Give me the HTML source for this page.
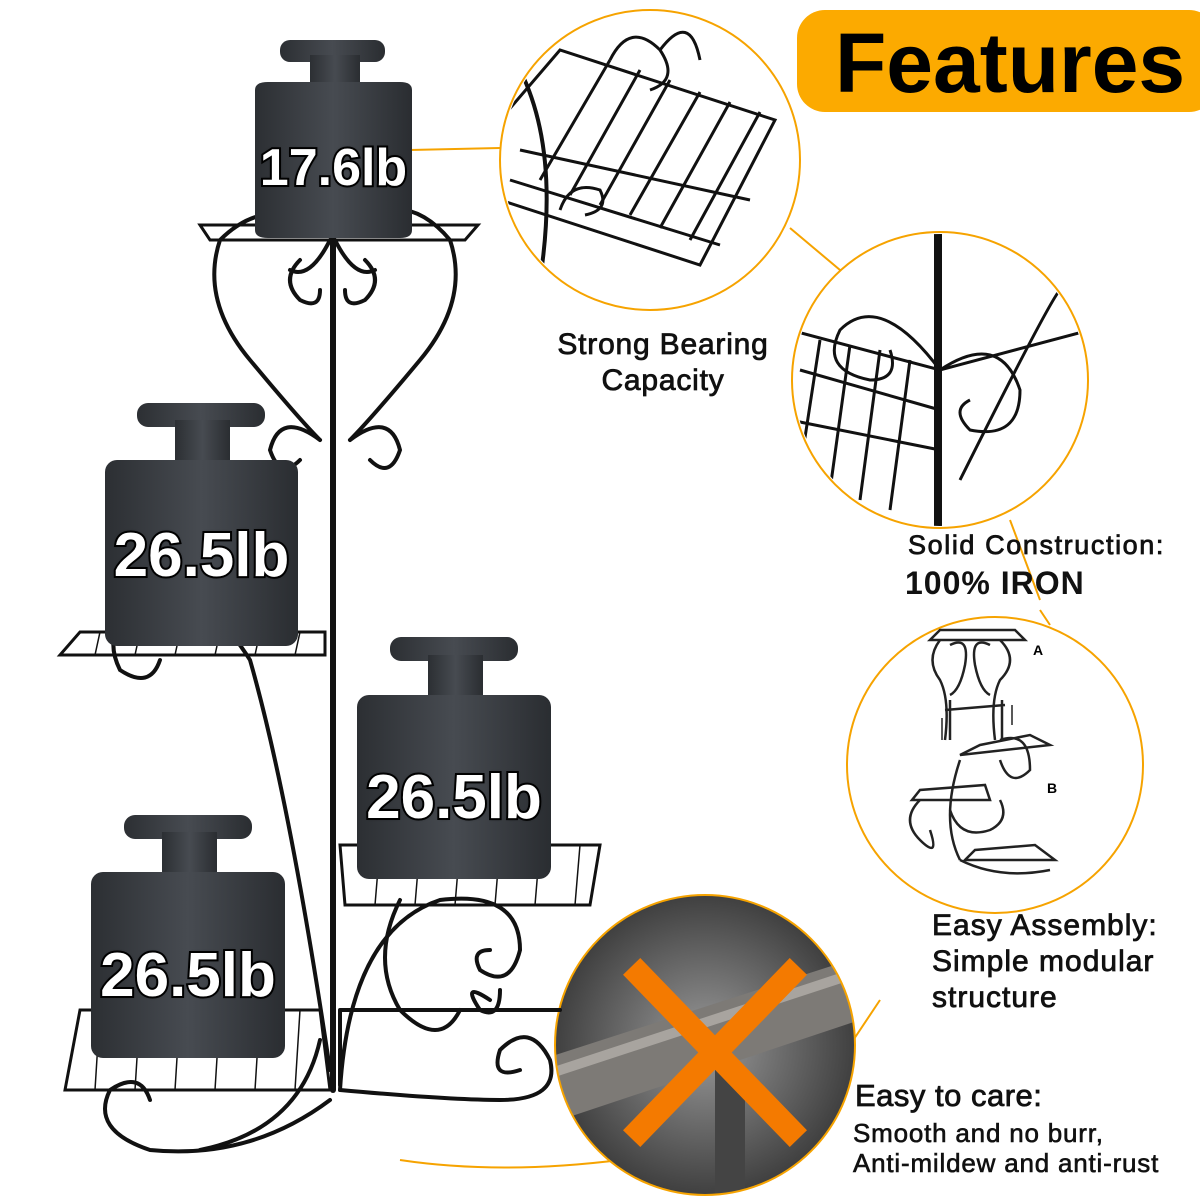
<!DOCTYPE html>
<html><head><meta charset="utf-8"><style>
html,body{margin:0;padding:0;background:#fff;}
#c{position:relative;width:1200px;height:1200px;overflow:hidden;background:#fff;font-family:"Liberation Sans",sans-serif;}
.t{position:absolute;color:#111;font-weight:bold;white-space:nowrap;}
.w{position:absolute;color:#fff;font-weight:bold;font-family:"Liberation Sans",sans-serif;-webkit-text-stroke:4px #000;paint-order:stroke fill;text-shadow:0 0 3px #000;white-space:nowrap;text-align:center;}
</style></head><body><div id="c">
<svg width="1200" height="1200" style="position:absolute;left:0;top:0">
<defs>
<linearGradient id="g" x1="0" x2="1"><stop offset="0" stop-color="#2c2f33"/><stop offset="0.5" stop-color="#474b51"/><stop offset="1" stop-color="#2a2d31"/></linearGradient>
<radialGradient id="ph" cx="0.5" cy="0.5" r="0.6"><stop offset="0" stop-color="#9a9a9a"/><stop offset="1" stop-color="#2a2a2a"/></radialGradient>
<clipPath id="c4"><circle cx="705" cy="1045" r="150"/></clipPath>
<clipPath id="c1"><circle cx="650" cy="160" r="148"/></clipPath>
<clipPath id="c2"><circle cx="940" cy="380" r="146"/></clipPath>
</defs>
<g stroke="#f6a300" stroke-width="2" fill="none">
<path d="M410 150 L500 148"/>
<path d="M790 228 L840 270"/>
<path d="M1010 520 L1040 600"/>
<path d="M1040 610 L1050 625"/>
<path d="M850 1045 L880 1000"/>
<path d="M400 1160 Q500 1175 620 1160"/>
</g>
<circle cx="650" cy="160" r="150" fill="#fff" stroke="#f6a300" stroke-width="2"/>
<circle cx="940" cy="380" r="148" fill="#fff" stroke="#f6a300" stroke-width="2"/>
<circle cx="995" cy="765" r="148" fill="#fff" stroke="#f6a300" stroke-width="2"/>
<g clip-path="url(#c1)" stroke="#111" stroke-width="3" fill="none">
<path d="M500 120 L560 50 L775 120 L700 265 L500 200 Z"/>
<path d="M540 180 L610 60 M570 195 L640 70 M600 205 L670 80 M630 215 L700 92 M660 228 L730 102 M690 240 L760 112"/>
<path d="M520 150 L750 200 M510 180 L720 245"/>
<path d="M610 60 q20 -40 50 -10 q20 30 -10 40 M660 50 q30 -40 40 10 M560 210 q10 -30 40 -20 q10 20 -15 25"/>
<path d="M520 70 Q560 150 540 280" stroke-width="4"/>
</g>
<g clip-path="url(#c2)" stroke="#111" stroke-width="3" fill="none">
<path d="M938 230 L938 530" stroke-width="8"/>
<path d="M790 330 L940 370 L1090 330 M790 420 L940 450 M800 370 L940 410"/>
<path d="M820 340 L800 470 M850 345 L830 490 M880 350 L860 500 M910 360 L890 510"/>
<path d="M940 370 q-60 -80 -100 -40 q-20 40 30 50 q30 0 20 -30"/>
<path d="M940 370 q60 -40 80 20 q0 50 -50 40 q-20 -20 0 -30"/>
<path d="M960 480 Q1050 300 1060 290"/>
</g>
<g stroke="#222" stroke-width="2.5" fill="none">
<path d="M930 640 L1025 640 L1015 630 L940 630 Z"/>
<path d="M940 640 q-15 20 0 40 q10 20 5 60 M1000 640 q20 20 0 40 q-10 20 -5 60"/>
<path d="M950 645 q20 -10 15 20 q-5 25 -15 30 M990 645 q-20 -10 -15 20 q5 25 15 30"/>
<path d="M945 710 L1005 705 M950 700 L950 740 M1002 700 L1002 740"/>
<path d="M960 755 L1050 745 L1030 735 L980 745 Z M912 800 L990 800 L985 785 L920 790 Z M965 860 L1055 860 L1035 845 L975 850 Z"/>
<path d="M960 760 Q940 820 960 860 M1000 740 q30 -10 30 30 q-20 20 -30 -10"/>
<path d="M920 800 q-20 20 0 40 q20 20 10 -10 M960 860 Q1000 880 1050 870 M1000 800 Q1010 820 990 830 q-30 10 -40 -20"/>
<path d="M942 718 L942 740 M1012 705 L1012 725" stroke-width="1.5"/>
</g>
<text x="1033" y="655" font-family="Liberation Sans" font-size="14" font-weight="bold">A</text>
<text x="1047" y="793" font-family="Liberation Sans" font-size="14" font-weight="bold">B</text>
<g clip-path="url(#c4)">
<rect x="550" y="890" width="310" height="310" fill="url(#ph)"/>
<path d="M540 1060 L850 960 L860 1020 L560 1120 Z" fill="#7d7a76"/>
<path d="M545 1075 L850 975" stroke="#a8a49f" stroke-width="10"/>
<rect x="715" y="1070" width="30" height="140" fill="#444"/>
<path d="M640 975 L790 1130 M790 975 L640 1130" stroke="#f47a00" stroke-width="24" stroke-linecap="square"/>
</g>
<circle cx="705" cy="1045" r="150" fill="none" stroke="#f6a300" stroke-width="2"/>
<g stroke="#111" stroke-width="4" fill="none" stroke-linecap="round">
<path d="M333 225 L333 1090" stroke-width="6"/>
<path d="M200 225 L478 225 L465 240 L210 240 Z" stroke-width="3"/>
<path d="M335 235 Q400 180 450 240 Q470 300 420 360 Q370 420 350 440 M333 235 Q270 190 220 240 Q200 300 250 360 Q300 420 320 440"/>
<path d="M300 260 q-20 20 0 40 q20 10 20 -10 M365 260 q20 20 0 40 q-20 10 -20 -10 M330 240 q-20 40 -40 30 M335 240 q20 40 40 30"/>
<path d="M320 440 q-40 -30 -50 10 q10 30 30 10 M350 440 q40 -30 50 10 q-10 30 -30 10"/>
<path d="M60 655 L325 655 L325 632 L80 632 Z" stroke-width="3"/>
<path d="M100 632 L95 655 M140 632 L135 655 M180 632 L175 655 M220 632 L215 655 M260 632 L255 655 M300 632 L295 655" stroke-width="1.5"/>
<path d="M330 1070 Q290 800 250 660 Q200 580 140 600 Q100 630 120 670 q30 20 40 -10"/>
<path d="M340 845 L600 845 L590 905 L345 905 Z" stroke-width="3"/>
<path d="M380 845 L375 905 M420 845 L415 905 M460 845 L455 905 M500 845 L495 905 M540 845 L535 905 M580 845 L575 905" stroke-width="1.5"/>
<path d="M340 1090 Q350 930 440 900 Q520 890 520 950 q-10 40 -40 20 q-10 -20 10 -20"/>
<path d="M400 900 Q370 960 400 1010 q40 40 60 0"/>
<path d="M490 1000 q-30 -20 -10 10 q20 10 20 -20"/>
<path d="M340 1090 Q450 1100 500 1100 Q560 1100 550 1060 q-20 -40 -50 -10 q-10 30 20 20"/>
<path d="M340 1010 L560 1010 M340 1010 L340 1085"/>
<path d="M65 1090 L330 1090 L320 1010 L80 1010 Z" stroke-width="3"/>
<path d="M100 1010 L95 1090 M140 1010 L135 1090 M180 1010 L175 1090 M220 1010 L215 1090 M260 1010 L255 1090 M300 1010 L295 1090" stroke-width="1.5"/>
<path d="M330 1100 Q250 1160 150 1150 Q90 1130 110 1090 q30 -20 40 10"/>
<path d="M320 1040 Q300 1130 200 1150"/>
</g>
<g fill="url(#g)">
<rect x="280" y="40" width="105" height="22" rx="10"/><rect x="310" y="55" width="50" height="35"/>
<path d="M255 90 Q255 82 268 82 L400 82 Q412 82 412 90 L412 230 Q412 238 400 238 L268 238 Q255 238 255 230Z"/>
<rect x="137" y="403" width="128" height="24" rx="11"/><rect x="175" y="420" width="55" height="45"/>
<rect x="105" y="460" width="193" height="186" rx="12"/>
<rect x="390" y="637" width="128" height="24" rx="11"/><rect x="428" y="655" width="55" height="45"/>
<rect x="357" y="695" width="194" height="184" rx="12"/>
<rect x="124" y="815" width="128" height="24" rx="11"/><rect x="162" y="832" width="55" height="45"/>
<rect x="91" y="872" width="194" height="186" rx="12"/>
</g>
</svg>
<div class="w" style="left:255px;top:138px;width:157px;font-size:52px">17.6lb</div>
<div class="w" style="left:105px;top:520px;width:193px;font-size:62px">26.5lb</div>
<div class="w" style="left:357px;top:762px;width:194px;font-size:62px">26.5lb</div>
<div class="w" style="left:91px;top:940px;width:194px;font-size:62px">26.5lb</div>
<div style="position:absolute;left:797px;top:10px;width:420px;height:102px;background:#fcaa00;border-radius:28px;"></div>
<div class="t" style="left:835px;top:15px;font-size:84px;color:#000">Features</div>
<div class="t" style="left:545px;top:327px;font-size:30px;letter-spacing:0.8px;font-weight:normal;-webkit-text-stroke:0.8px #111;text-align:center;width:236px;line-height:36px">Strong Bearing<br>Capacity</div>
<div class="t" style="left:908px;top:530px;font-size:27px;letter-spacing:1.6px;font-weight:normal;-webkit-text-stroke:0.8px #111">Solid Construction:</div>
<div class="t" style="left:905px;top:565px;font-size:32px;letter-spacing:1px">100% IRON</div>
<div class="t" style="left:932px;top:908px;font-size:30px;letter-spacing:1px;font-weight:normal;-webkit-text-stroke:0.8px #111;line-height:36px">Easy Assembly:<br>Simple modular<br>structure</div>
<div class="t" style="left:855px;top:1078px;font-size:31px;letter-spacing:0.5px;font-weight:normal;-webkit-text-stroke:0.8px #111">Easy to care:</div>
<div class="t" style="left:853px;top:1118px;font-size:26px;letter-spacing:0.8px;font-weight:normal;-webkit-text-stroke:0.6px #111;line-height:30px">Smooth and no burr,<br>Anti-mildew and anti-rust</div>
</div></body></html>
